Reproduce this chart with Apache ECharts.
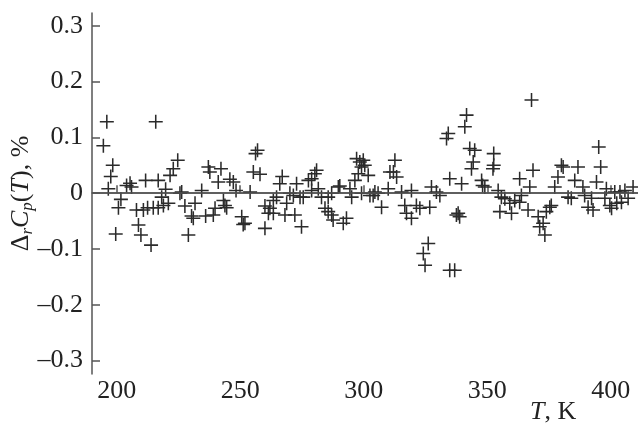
<!DOCTYPE html>
<html>
<head>
<meta charset="utf-8">
<script src="https://cdn.jsdelivr.net/npm/echarts@6/dist/echarts.min.js"></script>
<style>html,body{margin:0;padding:0;background:#fff}#c{width:638px;height:426px}</style>
</head>
<body>
<div id="c"></div>
<script>
// Temperature, K
const T = [194.6,196.0,196.6,197.6,198.4,199.6,200.7,201.7,204.0,205.4,206.0,208.0,208.8,209.8,210.8,211.7,212.5,213.9,214.8,215.8,216.8,216.8,218.2,218.9,219.8,220.9,221.6,222.9,224.7,225.6,226.3,227.6,229.0,230.3,231.0,231.7,234.4,236.0,237.1,237.7,239.1,239.8,241.1,242.2,243.2,243.8,244.5,245.8,247.2,248.3,250.6,251.2,251.9,254.0,255.3,256.2,257.0,258.0,260.0,260.0,261.4,262.0,263.4,263.4,264.7,266.0,267.0,268.1,268.8,270.1,271.5,272.1,272.8,274.2,274.8,275.5,277.6,278.9,278.9,280.2,280.9,281.6,282.9,284.3,285.6,285.6,287.0,287.0,287.6,289.7,290.3,291.7,293.0,294.4,295.1,296.4,297.1,297.8,298.4,299.1,299.1,299.8,300.4,301.8,302.5,303.8,304.5,305.8,307.2,309.9,310.6,312.0,312.6,313.3,315.3,316.6,317.3,319.3,319.3,321.3,322.7,324.1,324.8,326.1,326.7,327.4,329.4,330.8,333.5,334.2,334.8,334.8,336.8,337.5,338.2,338.8,339.6,340.9,341.6,342.9,343.6,344.3,344.9,347.7,348.1,349.0,352.3,352.6,352.6,354.4,355.1,355.7,357.1,359.1,359.8,361.1,363.1,363.1,363.8,366.5,367.2,367.9,368.5,370.6,371.2,372.6,373.3,373.9,375.3,375.9,377.3,378.6,380.0,380.7,382.7,384.0,385.4,386.7,388.7,389.4,390.8,392.2,392.8,394.2,395.1,395.9,397.6,398.2,399.6,400.3,401.6,402.4,403.7,404.3,405.7,407.0,409.0];
// Deviation, %
const dev = [0.085,0.128,0.008,0.030,0.050,-0.073,-0.026,-0.011,0.014,0.018,0.011,-0.030,-0.057,-0.075,-0.030,0.023,-0.026,-0.093,-0.026,0.128,-0.026,0.023,-0.007,-0.022,0.007,-0.018,0.032,0.044,0.059,0.000,0.002,-0.023,-0.075,-0.041,-0.045,-0.018,0.005,-0.041,0.047,0.038,-0.039,-0.027,0.020,0.044,-0.013,-0.022,-0.026,0.025,0.020,0.005,-0.042,-0.056,-0.054,0.002,0.038,0.071,0.077,0.034,-0.063,-0.023,-0.036,-0.027,-0.036,-0.013,-0.007,0.017,0.030,-0.039,-0.018,0.000,-0.004,-0.039,0.017,-0.007,-0.060,-0.007,0.023,0.026,0.005,0.035,0.041,0.008,-0.007,-0.027,-0.033,-0.007,-0.039,0.000,-0.048,0.011,0.013,-0.054,-0.045,0.008,-0.007,0.023,0.062,0.035,0.056,0.047,0.000,0.059,0.050,0.032,-0.004,-0.004,0.002,0.000,-0.025,0.008,0.038,0.038,0.059,0.029,0.002,-0.022,-0.036,0.005,-0.045,-0.022,-0.027,-0.108,-0.129,-0.090,-0.025,0.011,0.002,-0.004,0.098,0.107,-0.138,0.026,-0.138,-0.039,-0.036,-0.042,0.017,0.119,0.140,0.080,0.044,0.056,0.077,0.023,0.014,0.011,0.044,0.071,0.050,0.005,-0.033,-0.007,-0.010,-0.018,-0.036,-0.013,-0.016,0.026,-0.004,-0.030,0.011,0.167,0.041,-0.042,-0.060,-0.054,-0.075,-0.033,-0.025,-0.022,0.011,0.029,0.050,0.047,-0.007,-0.009,0.023,0.047,0.011,-0.004,-0.025,-0.009,-0.030,0.020,0.083,0.047,-0.009,0.008,-0.022,-0.027,0.002,-0.018,0.002,-0.016,0.005,-0.009,0.011];
const xTicks = [200,250,300,350,400];
const yTicks = [-0.3,-0.2,-0.1,0,0.1,0.2,0.3];

const points = T.map((t,i)=>[t,dev[i]]);
const serif = '"Liberation Serif","Times New Roman",serif';
const fmtY = v => { const r = Math.round(v*10)/10; if (r===0) return '0'; return (r<0?'\u2013':'') + Math.abs(r).toFixed(1); };

const chart = echarts.init(document.getElementById('c'), null, {renderer:'canvas'});
chart.setOption({
  animation:false,
  backgroundColor:'#fff',
  grid:{left:92, right:0, top:13, bottom:52, containLabel:false, outerBoundsMode:'none'},
  xAxis:{
    type:'value', min:190, max:411,
    axisLine:{show:true, lineStyle:{color:'#555', width:1.5}},
    axisTick:{show:true, inside:true, length:8, customValues:xTicks, lineStyle:{color:'#555', width:1.5}},
    axisLabel:{show:true, customValues:xTicks, margin:4, color:'#222', fontFamily:serif, fontSize:26},
    splitLine:{show:false}
  },
  yAxis:{
    type:'value', min:-0.324, max:0.323,
    axisLine:{show:true, lineStyle:{color:'#555', width:1.5}},
    axisTick:{show:true, inside:true, length:8, customValues:yTicks, lineStyle:{color:'#555', width:1.5}},
    axisLabel:{show:true, customValues:yTicks, margin:9, color:'#222', fontFamily:serif, fontSize:26, formatter:fmtY},
    splitLine:{show:false},
    name:'{n|\u0394}{s|r}{i|C}{s|p}{n|(}{i|T}{n|), %}',
    nameLocation:'middle', nameRotate:90, nameGap:56, nameMoveOverlap:false,
    nameTextStyle:{
      fontFamily:serif, fontSize:26, color:'#222',
      rich:{
        n:{fontFamily:serif, fontSize:26, color:'#222', lineHeight:30},
        i:{fontFamily:serif, fontSize:26, fontStyle:'italic', color:'#222', lineHeight:30},
        s:{fontFamily:serif, fontSize:17, fontStyle:'italic', color:'#222', lineHeight:17, verticalAlign:'bottom'}
      }
    }
  },
  graphic:[{
    type:'text', left:530, top:399,
    style:{text:'{i|T}{n|, K}', fill:'#222', font:'26px '+serif,
      rich:{i:{fontFamily:serif,fontSize:26,fontStyle:'italic',fill:'#222'}, n:{fontFamily:serif,fontSize:26,fill:'#222'}}}
  }],
  series:[{
    type:'scatter',
    data:points,
    symbol:'path://M0,4.45H10V5.55H0Z M4.45,0H5.55V10H4.45Z',
    symbolSize:14,
    itemStyle:{color:'#2b2b2b', opacity:1},
    markLine:{
      silent:true, symbol:'none', animation:false,
      label:{show:false},
      lineStyle:{color:'#555', width:1.5, type:'solid'},
      data:[{yAxis:0}]
    }
  }]
});
</script>
</body>
</html>
